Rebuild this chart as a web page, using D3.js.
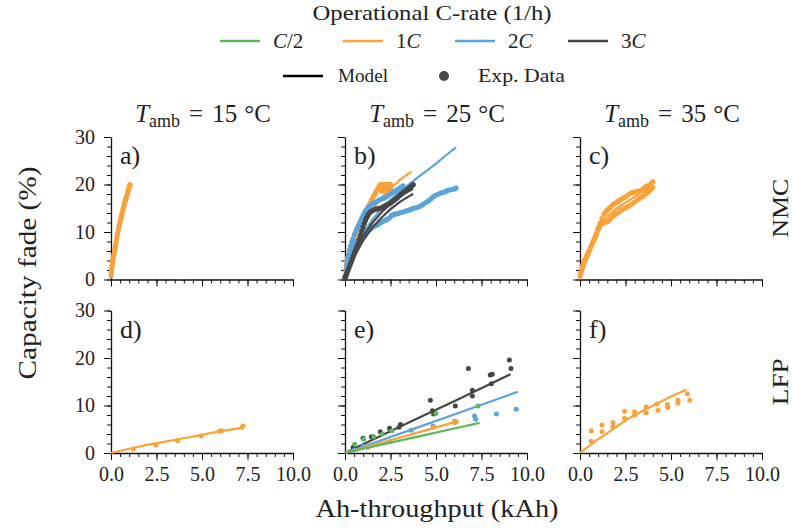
<!DOCTYPE html>
<html>
<head>
<meta charset="utf-8">
<script src="https://cdn.jsdelivr.net/npm/d3@7"></script>
<style>
  body { margin: 0; background: #fff; }
  svg text { font-family: "Liberation Serif", serif; fill: #222; }
</style>
</head>
<body>
<svg id="chart" width="792" height="528"></svg>
<script>
// ---- categories and tick labels ----
const cRates = ["C/2", "1C", "2C", "3C"];
const temperatures = [15, 25, 35];
const chemistries = ["NMC", "LFP"];
const panelLetters = ["a)", "b)", "c)", "d)", "e)", "f)"];
const xTicks = [0, 2.5, 5, 7.5, 10];
const yTicks = [0, 10, 20, 30];

// ---- NMC, 15 °C ----
const nmc15_exp_1C = [[0.00,0.8],[0.02,1.6],[0.04,2.3],[0.06,3.0],[0.08,3.5],[0.10,4.0],[0.13,4.7],[0.16,5.3],[0.19,5.9],[0.22,6.5],[0.25,7.2],[0.28,7.9],[0.31,8.6],[0.34,9.2],[0.37,9.8],[0.40,10.4],[0.43,10.9],[0.46,11.4],[0.49,11.9],[0.52,12.4],[0.55,12.9],[0.58,13.5],[0.61,14.0],[0.64,14.4],[0.67,14.9],[0.70,15.3],[0.73,15.8],[0.76,16.2],[0.79,16.6],[0.82,17.0],[0.85,17.4],[0.88,17.8],[0.91,18.2],[0.94,18.6],[0.97,19.0],[1.00,19.4],[1.03,19.8],[1.05,20.0]];

// ---- NMC, 25 °C ----
const nmc25_exp_1C = [[0.00,0.5],[0.04,1.8],[0.08,2.9],[0.12,3.8],[0.16,4.6],[0.20,5.3],[0.24,5.9],[0.28,6.5],[0.33,7.2],[0.38,7.8],[0.44,8.5],[0.50,9.1],[0.56,9.7],[0.62,10.3],[0.68,10.8],[0.75,11.4],[0.82,11.9],[0.90,12.5],[0.98,13.1],[1.06,13.7],[1.14,14.3],[1.22,14.9],[1.30,15.5],[1.38,16.1],[1.46,16.7],[1.54,17.3],[1.62,17.9],[1.70,18.5],[1.78,19.0],[1.86,19.5],[1.94,20.0],[2.00,18.6],[2.02,19.3],[2.04,20.0],[2.12,18.7],[2.14,19.4],[2.16,20.0],[2.24,18.8],[2.26,19.4],[2.28,20.0],[2.36,18.9],[2.38,19.5],[2.40,20.0],[2.48,19.0],[2.50,19.5],[2.52,20.0]];
const nmc25_model_1C = [[0,0],[0.25,4.0],[0.5,7.0],[0.75,9.4],[1,11.4],[1.5,14.6],[2,17.2],[2.5,19.1],[3,20.9],[3.65,22.7]];
const nmc25_exp_2C_a = [[0.00,0.5],[0.05,1.0],[0.10,1.8],[0.15,2.6],[0.20,3.4],[0.25,4.1],[0.30,4.8],[0.35,5.4],[0.42,6.0],[0.50,6.6],[0.58,7.2],[0.66,7.7],[0.74,8.0],[0.82,8.3],[0.92,8.8],[1.02,9.3],[1.12,9.7],[1.22,10.1],[1.32,10.4],[1.42,10.7],[1.52,11.0],[1.62,11.2],[1.72,11.4],[1.82,11.6],[1.92,11.9],[2.02,12.1],[2.12,12.3],[2.22,12.5],[2.32,12.7],[2.42,12.9],[2.52,13.3],[2.60,13.6],[2.70,13.7],[2.80,13.8],[2.92,13.9],[3.04,14.1],[3.16,14.2],[3.28,14.3],[3.40,14.5],[3.52,14.6],[3.64,14.8],[3.76,15.0],[3.88,15.1],[4.00,15.2],[4.12,15.4],[4.24,15.7],[4.36,16.0],[4.48,16.3],[4.60,16.6],[4.72,17.0],[4.84,17.4],[4.96,17.7],[5.08,17.9],[5.20,18.1],[5.32,18.3],[5.44,18.4],[5.56,18.6],[5.68,18.8],[5.80,18.9],[5.92,19.0],[6.04,19.1],[6.10,19.3]];
const nmc25_exp_2C_b = [[0.00,0.6],[0.05,2.0],[0.10,3.2],[0.15,4.3],[0.20,5.2],[0.26,6.2],[0.32,7.0],[0.38,7.8],[0.44,8.4],[0.52,9.4],[0.60,10.2],[0.68,10.9],[0.76,11.5],[0.84,12.2],[0.92,12.9],[1.00,13.5],[1.08,14.1],[1.16,14.6],[1.24,15.0],[1.34,15.4],[1.44,15.7],[1.54,16.0],[1.64,16.2],[1.74,16.4],[1.86,16.7],[1.98,16.9],[2.10,17.1],[2.22,17.3],[2.34,17.6],[2.46,17.9],[2.58,18.2],[2.70,18.5],[2.82,18.8],[2.94,19.1],[3.06,19.4],[3.18,19.7]];
const nmc25_model_2C = [[0,0],[0.25,3.2],[0.5,5.8],[0.75,7.9],[1,9.7],[1.5,12.6],[2,14.9],[2.5,16.8],[3,18.5],[3.5,20.0],[4,21.5],[4.5,22.9],[5,24.4],[5.5,26.0],[6.1,27.8]];
const nmc25_exp_3C = [[0.00,0.3],[0.05,0.8],[0.10,1.3],[0.16,1.9],[0.22,2.5],[0.28,3.1],[0.34,3.7],[0.40,4.3],[0.46,5.0],[0.52,5.6],[0.58,6.2],[0.64,6.8],[0.71,7.5],[0.78,8.4],[0.85,9.3],[0.92,10.2],[0.99,11.0],[1.06,11.8],[1.13,12.5],[1.20,13.1],[1.27,13.6],[1.34,14.0],[1.42,14.3],[1.50,14.5],[1.60,14.7],[1.70,14.8],[1.80,14.9],[1.90,15.0],[2.00,15.1],[2.10,15.3],[2.20,15.5],[2.30,15.7],[2.40,15.9],[2.50,16.1],[2.60,16.4],[2.70,16.7],[2.80,17.0],[2.90,17.3],[3.00,17.7],[3.10,18.0],[3.20,18.3],[3.30,18.6],[3.40,18.9],[3.50,19.2],[3.60,19.5],[3.70,19.8],[3.75,20.0]];
const nmc25_model_3C_a = [[0,0],[0.25,2.8],[0.5,5.2],[0.75,7.3],[1,9.1],[1.5,11.9],[2,14.1],[2.5,15.9],[3,17.4],[3.5,18.6],[3.75,19.1]];
const nmc25_model_3C_b = [[0,0],[0.25,2.5],[0.5,4.6],[0.75,6.5],[1,8.2],[1.5,10.9],[2,13.0],[2.5,14.8],[3,16.3],[3.5,17.5],[3.75,18.0]];

// ---- NMC, 35 °C ----
const nmc35_exp_1C_a = [[0.00,0.8],[0.04,1.4],[0.08,2.0],[0.12,2.6],[0.16,3.1],[0.20,3.6],[0.25,4.0],[0.30,4.4],[0.35,4.8],[0.40,5.2],[0.45,5.6],[0.50,6.0],[0.55,6.5],[0.60,6.9],[0.65,7.3],[0.70,7.8],[0.75,8.2],[0.80,8.6],[0.85,9.1],[0.90,9.6],[0.95,10.1],[1.00,10.6],[1.05,11.0],[1.10,11.4],[1.15,11.7],[1.20,11.8],[1.30,11.9],[1.40,12.0],[1.50,12.2],[1.60,12.5],[1.70,12.9],[1.80,13.3],[1.90,13.6],[2.00,13.9],[2.10,14.1],[2.20,14.4],[2.30,14.7],[2.40,14.9],[2.50,15.1],[2.60,15.3],[2.70,15.5],[2.85,15.9],[3.00,16.3],[3.15,16.7],[3.30,17.1],[3.45,17.5],[3.60,18.0],[3.70,18.3],[3.80,18.7],[3.90,19.0],[4.00,19.4]];
const nmc35_exp_1C_b = [[1.00,10.8],[1.10,11.8],[1.20,12.8],[1.32,13.8],[1.42,14.2],[1.50,14.6],[1.60,15.0],[1.70,15.3],[1.80,15.7],[1.90,16.0],[2.00,16.2],[2.10,16.5],[2.20,16.7],[2.30,17.0],[2.40,17.2],[2.50,17.4],[2.64,17.8],[2.80,18.2],[2.90,18.3],[3.00,18.4],[3.10,18.5],[3.20,18.6],[3.37,18.8],[3.50,19.2],[3.60,19.5],[3.70,19.7],[3.80,19.9],[3.90,20.2],[4.00,20.6]];
const nmc35_model_1C = [[0,0],[0.25,2.8],[0.5,5.6],[0.75,8.2],[1,10.5],[1.25,12.3],[1.5,13.3],[2,14.9],[2.5,16.2],[3,17.4],[3.5,18.6],[4,19.9]];

// ---- LFP, 15 °C ----
const lfp15_exp_1C = [[1.23,0.85],[2.47,1.7],[3.66,2.6],[4.95,3.6],[5.95,4.6],[6.08,4.7],[7.20,5.4],[7.25,5.7]];
const lfp15_model_1C = [[0,0],[1,0.9],[2,1.7],[3,2.4],[4,3.1],[5,3.8],[6,4.6],[7.2,5.3]];

// ---- LFP, 25 °C ----
const lfp25_exp_C2 = [[0.53,1.85],[1.03,2.9],[1.58,3.4],[2.05,4.0],[2.58,4.7],[5.0,8.3],[7.31,9.9]];
const lfp25_model_C2 = [[0,0],[2,1.75],[4,3.45],[6,5.15],[7.4,6.35]];
const lfp25_exp_1C = [[1.27,1.15],[2.46,2.4],[4.85,5.4],[6.0,6.4],[6.12,6.6]];
const lfp25_model_1C = [[0,0],[2,2.15],[4,4.3],[6.12,6.6]];
const lfp25_exp_2C = [[0.5,0.6],[1.0,1.4],[3.64,4.8],[4.84,5.7],[6.03,6.7],[7.12,7.8],[7.18,7.1],[8.32,8.2],[9.41,9.2]];
const lfp25_model_2C = [[0,0],[2,2.7],[4,5.4],[6,8.1],[8,10.85],[9.5,12.9]];
const lfp25_exp_3C = [[0.45,1.2],[0.99,3.1],[1.45,3.4],[1.94,4.5],[2.45,5.2],[2.97,5.4],[3.05,6.0],[4.69,11.1],[4.80,8.9],[4.87,8.2],[6.06,9.9],[6.78,17.8],[7.00,13.2],[7.00,12.0],[7.98,16.4],[8.09,16.6],[8.04,14.6],[9.03,19.6],[9.12,17.8]];
const lfp25_model_3C = [[0,0],[2,3.7],[4,7.3],[6,10.9],[8,14.6],[9.1,16.6]];

// ---- LFP, 35 °C ----
const lfp35_exp_1C = [[0.62,4.7],[0.62,2.5],[1.21,5.9],[1.21,4.5],[1.81,6.4],[1.81,5.6],[2.45,8.8],[2.45,7.3],[3.00,8.7],[3.00,8.0],[3.64,9.7],[3.64,8.5],[4.23,10.3],[4.29,9.0],[4.80,10.2],[4.82,9.6],[5.38,10.5],[5.38,11.1],[5.90,12.5],[6.03,11.1]];
const lfp35_model_1C = [[0,0],[0.5,1.5],[1,2.9],[1.5,4.2],[2,5.5],[2.64,7.2],[3.5,9.0],[4.29,10.5],[5,11.9],[5.84,13.3]];

// ---- colours per C-rate ----
const rateColor = { "C/2": "#5cb85c", "1C": "#f9a23a", "2C": "#5aa4dc", "3C": "#464646" };

// panel contents
const panels = [
  { row: 0, col: 0, series: [
      { rate: "1C", kind: "exp", data: nmc15_exp_1C } ] },
  { row: 0, col: 1, series: [
      { rate: "1C", kind: "exp", data: nmc25_exp_1C },
      { rate: "1C", kind: "model", data: nmc25_model_1C },
      { rate: "2C", kind: "exp", data: nmc25_exp_2C_a },
      { rate: "2C", kind: "exp", data: nmc25_exp_2C_b },
      { rate: "2C", kind: "model", data: nmc25_model_2C },
      { rate: "3C", kind: "exp", data: nmc25_exp_3C },
      { rate: "3C", kind: "model", data: nmc25_model_3C_a },
      { rate: "3C", kind: "model", data: nmc25_model_3C_b } ] },
  { row: 0, col: 2, series: [
      { rate: "1C", kind: "exp", data: nmc35_exp_1C_a },
      { rate: "1C", kind: "exp", data: nmc35_exp_1C_b },
      { rate: "1C", kind: "model", data: nmc35_model_1C } ] },
  { row: 1, col: 0, series: [
      { rate: "1C", kind: "exp", data: lfp15_exp_1C },
      { rate: "1C", kind: "model", data: lfp15_model_1C } ] },
  { row: 1, col: 1, series: [
      { rate: "3C", kind: "model", data: lfp25_model_3C },
      { rate: "3C", kind: "exp", data: lfp25_exp_3C },
      { rate: "2C", kind: "model", data: lfp25_model_2C },
      { rate: "2C", kind: "exp", data: lfp25_exp_2C },
      { rate: "1C", kind: "model", data: lfp25_model_1C },
      { rate: "1C", kind: "exp", data: lfp25_exp_1C },
      { rate: "C/2", kind: "model", data: lfp25_model_C2 },
      { rate: "C/2", kind: "exp", data: lfp25_exp_C2 } ] },
  { row: 1, col: 2, series: [
      { rate: "1C", kind: "exp", data: lfp35_exp_1C },
      { rate: "1C", kind: "model", data: lfp35_model_1C } ] }
];

// ---- layout ----
const FONT = '"Liberation Serif", serif';
const svg = d3.select("#chart");
const colX = [111, 345, 580];
const rowY = [137, 310.5];
const pw = 182, ph = 142.5;
const TICK_FONT = 20;

const x = d3.scaleLinear().domain([0, 10]).range([0, pw]);
const y = d3.scaleLinear().domain([0, 30]).range([ph, 0]);
const line = d3.line().x(d => x(d[0])).y(d => y(d[1]));

function styleAxis(g) {
  g.attr("font-family", FONT);
  g.selectAll("path.domain").attr("stroke", "#111").attr("stroke-width", 1.3);
  g.selectAll(".tick line").attr("stroke", "#111").attr("stroke-width", 1);
  g.selectAll(".tick text")
    .style("font-family", FONT)
    .style("font-size", TICK_FONT + "px").attr("fill", "#222");
}

panels.forEach((p, i) => {
  const g = svg.append("g").attr("transform", `translate(${colX[p.col]},${rowY[p.row]})`);

  // minor ticks
  g.append("g").attr("transform", `translate(0,${ph})`)
    .call(d3.axisBottom(x).tickValues(d3.range(0, 10.001, 0.5)).tickSize(4).tickSizeOuter(0).tickFormat(""))
    .call(a => a.select("path.domain").remove()).call(styleAxis);
  g.append("g")
    .call(d3.axisLeft(y).tickValues(d3.range(0, 30.001, 2)).tickSize(4).tickSizeOuter(0).tickFormat(""))
    .call(a => a.select("path.domain").remove()).call(styleAxis);

  // major ticks and spines
  g.append("g").attr("transform", `translate(0,${ph})`)
    .call(d3.axisBottom(x).tickValues(xTicks).tickSize(7).tickSizeOuter(0).tickPadding(7)
      .tickFormat(p.row === 1 ? d3.format(".1f") : () => ""))
    .call(styleAxis);
  g.append("g")
    .call(d3.axisLeft(y).tickValues(yTicks).tickSize(7).tickSizeOuter(0).tickPadding(9)
      .tickFormat(p.col === 0 ? d3.format("d") : () => ""))
    .call(styleAxis);

  // data
  p.series.forEach(s => {
    const c = rateColor[s.rate];
    if (s.kind === "model") {
      g.append("path").datum(s.data).attr("d", line)
        .attr("fill", "none").attr("stroke", c).attr("stroke-width", 2.2);
    } else {
      g.append("g").selectAll("circle").data(s.data).join("circle")
        .attr("cx", d => x(d[0])).attr("cy", d => y(d[1]))
        .attr("r", s.data.length > 25 ? 2.6 : 2.5).attr("fill", c);
    }
  });

  // panel letter
  g.append("text").attr("x", 9).attr("y", 27).attr("font-size", 26).text(panelLetters[i]);
});

// column headers: T_amb = .. °C
temperatures.forEach((t, j) => {
  const tx = svg.append("text").attr("x", colX[j] + pw / 2 + 1).attr("y", 122)
    .attr("text-anchor", "middle").attr("font-size", 25);
  tx.append("tspan").attr("font-style", "italic").text("T");
  tx.append("tspan").attr("font-size", 18).attr("dy", 5).text("amb");
  tx.append("tspan").attr("dy", -5).attr("dx", 9).text("=");
  tx.append("tspan").attr("dx", 9).text(`${t}`);
  tx.append("tspan").attr("dx", 7).text("°C");
});

// row labels
chemistries.forEach((c, r) => {
  svg.append("text")
    .attr("transform", `translate(788,${rowY[r] + ph / 2}) rotate(-90)`)
    .attr("text-anchor", "middle").attr("font-size", 24)
    .attr("textLength", c === "NMC" ? 59 : 47).attr("lengthAdjust", "spacingAndGlyphs").text(c);
});

// axis titles
svg.append("text").attr("transform", "translate(36,273) rotate(-90)")
  .attr("text-anchor", "middle").attr("font-size", 25)
  .attr("textLength", 213).attr("lengthAdjust", "spacingAndGlyphs").text("Capacity fade (%)");
svg.append("text").attr("x", 437).attr("y", 517)
  .attr("text-anchor", "middle").attr("font-size", 25)
  .attr("textLength", 243).attr("lengthAdjust", "spacingAndGlyphs").text("Ah-throughput (kAh)");

// ---- legend ----
const leg = svg.append("g");
leg.append("text").attr("x", 432).attr("y", 20).attr("text-anchor", "middle")
  .attr("font-size", 22).attr("textLength", 239).attr("lengthAdjust", "spacingAndGlyphs")
  .text("Operational C-rate (1/h)");

const legX = [220, 343, 455, 568];
cRates.forEach((r, k) => {
  const lx = legX[k];
  leg.append("line").attr("x1", lx).attr("x2", lx + 40).attr("y1", 41).attr("y2", 41)
    .attr("stroke", rateColor[r]).attr("stroke-width", 2.5);
  const t = leg.append("text").attr("x", lx + 53).attr("y", 48).attr("font-size", 21);
  const m = r.match(/^(\d*)C(.*)$/);
  if (m[1]) t.append("tspan").text(m[1]);
  t.append("tspan").attr("font-style", "italic").text("C");
  if (m[2]) t.append("tspan").text(m[2]);
});

leg.append("line").attr("x1", 283).attr("x2", 323).attr("y1", 76).attr("y2", 76)
  .attr("stroke", "#000").attr("stroke-width", 2.5);
leg.append("text").attr("x", 338).attr("y", 82).attr("font-size", 19)
  .attr("textLength", 50).attr("lengthAdjust", "spacingAndGlyphs").text("Model");
leg.append("circle").attr("cx", 444).attr("cy", 76).attr("r", 5).attr("fill", "#4a4a4a");
leg.append("text").attr("x", 478).attr("y", 82).attr("font-size", 19)
  .attr("textLength", 87).attr("lengthAdjust", "spacingAndGlyphs").text("Exp. Data");
</script>
</body>
</html>
